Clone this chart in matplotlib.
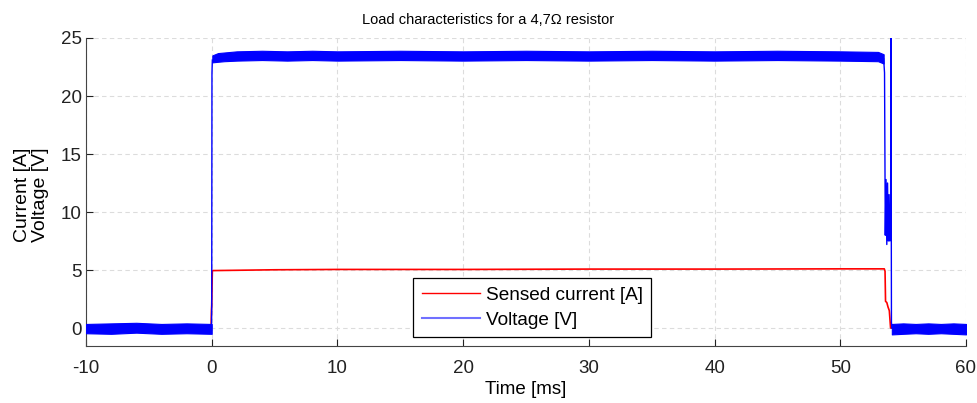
import matplotlib
matplotlib.use("Agg")
import matplotlib.pyplot as plt
from matplotlib.lines import Line2D

plt.rcParams["font.family"] = ["Liberation Sans", "DejaVu Sans"]
plt.rcParams["axes.unicode_minus"] = False

# Voltage noise band envelopes [ms, V]
t_off_pre = [-10, -8, -6, -4, -2, 0]
v_off_pre_lo = [-0.45, -0.5, -0.4, -0.5, -0.45, -0.5]
v_off_pre_hi = [0.35, 0.4, 0.45, 0.35, 0.4, 0.35]

t_on = [0.05, 0.5, 1, 2, 4, 6, 8, 10, 15, 20, 25, 30, 35, 40, 45, 50, 53.0, 53.45]
v_on_lo = [22.9, 22.95, 23.0, 23.05, 23.1, 23.05, 23.1, 23.05, 23.1, 23.05, 23.1, 23.05, 23.1, 23.05, 23.1, 23.05, 23.0, 22.8]
v_on_hi = [23.5, 23.7, 23.75, 23.85, 23.9, 23.85, 23.9, 23.85, 23.9, 23.85, 23.9, 23.85, 23.9, 23.85, 23.9, 23.85, 23.8, 23.6]

t_off_post = [54.1, 55, 56, 57, 58, 59, 60]
v_off_post_lo = [-0.55, -0.5, -0.45, -0.5, -0.45, -0.5, -0.55]
v_off_post_hi = [0.35, 0.4, 0.35, 0.4, 0.35, 0.4, 0.35]

# Voltage edges (turn-on and turn-off transient)
t_edge_on = [-0.02, 0.0, 0.02, 0.05]
v_edge_on = [0.0, 2.0, 22.0, 23.1]
t_edge_off = [53.45, 53.52, 53.58, 53.64, 53.7, 53.76, 53.82, 53.88, 53.94, 54.0, 54.03, 54.07, 54.1]
v_edge_off = [23.2, 22.0, 8.0, 12.8, 7.2, 12.5, 7.5, 11.5, 7.5, 8.0, 26.0, 0.5, 0.0]

# Sensed current [ms, A]
t_cur = [-10, -0.05, -0.02, 0.0, 0.05, 5, 10, 20, 30, 40, 50, 53.5, 53.56, 53.6, 53.7, 53.8, 53.9, 54.0, 60]
i_cur = [0.0, 0.0, 1.5, 2.0, 4.95, 5.02, 5.05, 5.05, 5.08, 5.08, 5.1, 5.1, 4.9, 2.3, 2.2, 1.8, 1.5, 0.0, 0.0]

x_ticks = [-10, 0, 10, 20, 30, 40, 50, 60]
y_ticks = [0, 5, 10, 15, 20, 25]

blue = "#0000ff"
red = "#ff0000"

fig = plt.figure(figsize=(9.78, 4.03), dpi=100)
ax = fig.add_axes([86 / 978, 57 / 403, 880 / 978, 308 / 403])

# current first so the voltage band covers it at 0 A
ax.plot(t_cur, i_cur, color=red, lw=1.2, zorder=3)

for t, lo, hi in [(t_off_pre, v_off_pre_lo, v_off_pre_hi),
                  (t_on, v_on_lo, v_on_hi),
                  (t_off_post, v_off_post_lo, v_off_post_hi)]:
    ax.fill_between(t, lo, hi, color=blue, linewidth=0.8, edgecolor=blue, zorder=4)

ax.plot(t_edge_on, v_edge_on, color=blue, lw=1.0, zorder=4)
ax.plot(t_edge_off, v_edge_off, color=blue, lw=1.0, zorder=4)

ax.set_xlim(-10, 60)
ax.set_ylim(-1.55, 25)
ax.set_xticks(x_ticks)
ax.set_yticks(y_ticks)
ax.tick_params(direction="in", length=5, labelsize=13.5, colors="#222222")
ax.tick_params(axis="x", pad=10)
ax.tick_params(axis="y", pad=3)
ax.grid(True, color="#dcdcdc", linestyle=(0, (4, 3)), linewidth=0.8)
ax.set_axisbelow(True)
for side in ("top", "right"):
    ax.spines[side].set_visible(False)
for side in ("left", "bottom"):
    ax.spines[side].set_color("#444444")

ax.set_title("Load characteristics for a 4,7\u03a9 resistor", fontsize=10.5, pad=10, x=0.457)
ax.set_xlabel("Time [ms]", fontsize=13.5)
ax.xaxis.set_label_coords(0.5, -0.115)
ax.set_ylabel("Current [A]\nVoltage [V]", fontsize=14, linespacing=1.05)
ax.yaxis.set_label_coords(-0.042, 0.49)

handles = [Line2D([], [], color=red, lw=1.0),
           Line2D([], [], color="#7070ff", lw=1.5)]
leg = ax.legend(handles, ["Sensed current [A]", "Voltage [V]"],
                loc="lower left", bbox_to_anchor=(0.372, 0.029),
                fontsize=13.7, frameon=True, fancybox=False,
                edgecolor="black", framealpha=1, handlelength=3.05,
                borderpad=0.45, labelspacing=0.4, handletextpad=0.3,
                borderaxespad=0)
leg.get_frame().set_linewidth(0.9)
leg.set_zorder(6)

fig.savefig("out.png", dpi=100, facecolor="white")
